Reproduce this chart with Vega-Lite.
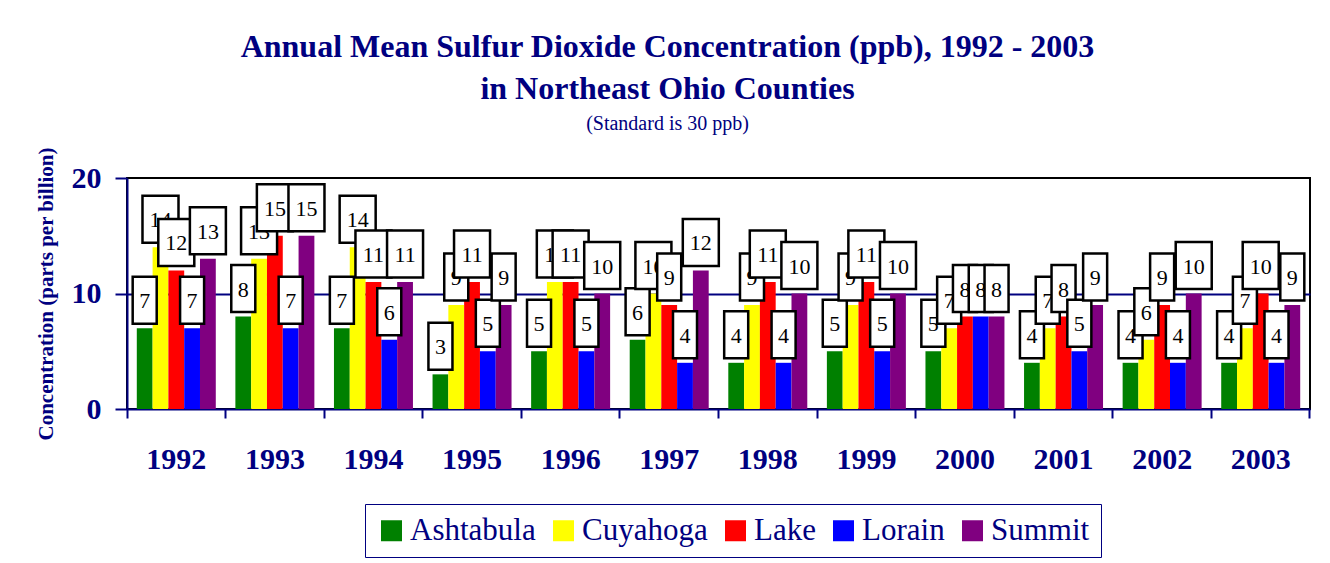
{
  "$schema": "https://vega.github.io/schema/vega-lite/v6.json",
  "autosize": "none",
  "width": 1183,
  "height": 231,
  "padding": {"left": 127, "top": 178, "right": 20, "bottom": 154},
  "background": "white",
  "config": {
    "view": {"stroke": "black", "strokeWidth": 2},
    "font": "Liberation Serif"
  },
  "title": {
    "text": ["Annual Mean Sulfur Dioxide Concentration (ppb), 1992 - 2003", "in Northeast Ohio Counties"],
    "subtitle": "(Standard is 30 ppb)",
    "font": "Liberation Serif",
    "fontSize": 32,
    "fontWeight": "bold",
    "lineHeight": 42,
    "color": "#000080",
    "subtitleFont": "Liberation Serif",
    "subtitleFontSize": 20,
    "subtitleColor": "#000080",
    "subtitlePadding": 8,
    "anchor": "middle",
    "frame": "group",
    "dx": -51,
    "offset": 12
  },
  "data": {
    "values": [
      {"year": "1992", "county": "Ashtabula", "v": 7},
      {"year": "1992", "county": "Cuyahoga", "v": 14},
      {"year": "1992", "county": "Lake", "v": 12},
      {"year": "1992", "county": "Lorain", "v": 7},
      {"year": "1992", "county": "Summit", "v": 13},
      {"year": "1993", "county": "Ashtabula", "v": 8},
      {"year": "1993", "county": "Cuyahoga", "v": 13},
      {"year": "1993", "county": "Lake", "v": 15},
      {"year": "1993", "county": "Lorain", "v": 7},
      {"year": "1993", "county": "Summit", "v": 15},
      {"year": "1994", "county": "Ashtabula", "v": 7},
      {"year": "1994", "county": "Cuyahoga", "v": 14},
      {"year": "1994", "county": "Lake", "v": 11},
      {"year": "1994", "county": "Lorain", "v": 6},
      {"year": "1994", "county": "Summit", "v": 11},
      {"year": "1995", "county": "Ashtabula", "v": 3},
      {"year": "1995", "county": "Cuyahoga", "v": 9},
      {"year": "1995", "county": "Lake", "v": 11},
      {"year": "1995", "county": "Lorain", "v": 5},
      {"year": "1995", "county": "Summit", "v": 9},
      {"year": "1996", "county": "Ashtabula", "v": 5},
      {"year": "1996", "county": "Cuyahoga", "v": 11},
      {"year": "1996", "county": "Lake", "v": 11},
      {"year": "1996", "county": "Lorain", "v": 5},
      {"year": "1996", "county": "Summit", "v": 10},
      {"year": "1997", "county": "Ashtabula", "v": 6},
      {"year": "1997", "county": "Cuyahoga", "v": 10},
      {"year": "1997", "county": "Lake", "v": 9},
      {"year": "1997", "county": "Lorain", "v": 4},
      {"year": "1997", "county": "Summit", "v": 12},
      {"year": "1998", "county": "Ashtabula", "v": 4},
      {"year": "1998", "county": "Cuyahoga", "v": 9},
      {"year": "1998", "county": "Lake", "v": 11},
      {"year": "1998", "county": "Lorain", "v": 4},
      {"year": "1998", "county": "Summit", "v": 10},
      {"year": "1999", "county": "Ashtabula", "v": 5},
      {"year": "1999", "county": "Cuyahoga", "v": 9},
      {"year": "1999", "county": "Lake", "v": 11},
      {"year": "1999", "county": "Lorain", "v": 5},
      {"year": "1999", "county": "Summit", "v": 10},
      {"year": "2000", "county": "Ashtabula", "v": 5},
      {"year": "2000", "county": "Cuyahoga", "v": 7},
      {"year": "2000", "county": "Lake", "v": 8},
      {"year": "2000", "county": "Lorain", "v": 8},
      {"year": "2000", "county": "Summit", "v": 8},
      {"year": "2001", "county": "Ashtabula", "v": 4},
      {"year": "2001", "county": "Cuyahoga", "v": 7},
      {"year": "2001", "county": "Lake", "v": 8},
      {"year": "2001", "county": "Lorain", "v": 5},
      {"year": "2001", "county": "Summit", "v": 9},
      {"year": "2002", "county": "Ashtabula", "v": 4},
      {"year": "2002", "county": "Cuyahoga", "v": 6},
      {"year": "2002", "county": "Lake", "v": 9},
      {"year": "2002", "county": "Lorain", "v": 4},
      {"year": "2002", "county": "Summit", "v": 10},
      {"year": "2003", "county": "Ashtabula", "v": 4},
      {"year": "2003", "county": "Cuyahoga", "v": 7},
      {"year": "2003", "county": "Lake", "v": 10},
      {"year": "2003", "county": "Lorain", "v": 4},
      {"year": "2003", "county": "Summit", "v": 9}
    ]
  },
  "encoding": {
    "x": {
      "field": "year", "type": "nominal", "sort": null,
      "scale": {"paddingInner": 0, "paddingOuter": 0},
      "axis": {
        "title": null, "labelAngle": 0,
        "bandPosition": 1, "tickExtra": true,
        "domainColor": "#000080", "domainWidth": 2,
        "tickColor": "#000080", "tickWidth": 2, "tickSize": 9,
        "labelFont": "Liberation Serif", "labelFontSize": 30, "labelFontWeight": "bold",
        "labelColor": "#000080", "labelPadding": 26
      }
    },
    "xOffset": {
      "field": "county", "type": "nominal",
      "scale": {"domain": ["Ashtabula", "Cuyahoga", "Lake", "Lorain", "Summit"], "paddingInner": 0, "paddingOuter": 0.62}
    },
    "y": {
      "field": "v", "type": "quantitative",
      "scale": {"domain": [0, 20], "nice": false},
      "axis": {
        "values": [0, 10, 20],
        "grid": true, "gridColor": "#000080", "gridWidth": 2,
        "gridOpacity": {"condition": {"test": "datum.value == 10", "value": 1}, "value": 0},
        "domainColor": "#000080", "domainWidth": 2,
        "tickColor": "#000080", "tickWidth": 2, "tickSize": 12,
        "labelFont": "Liberation Serif", "labelFontSize": 30, "labelFontWeight": "bold",
        "labelColor": "#000080", "labelPadding": 14,
        "title": "Concentration (parts per billion)",
        "titleFont": "Liberation Serif", "titleFontSize": 21, "titleFontWeight": "bold",
        "titleColor": "#000080", "titleX": -81, "titleY": 115.5, "titleBaseline": "middle", "titleAngle": -90, "titleAlign": "center"
      }
    }
  },
  "layer": [
    {
      "mark": {"type": "bar"},
      "encoding": {
        "color": {
          "field": "county", "type": "nominal",
          "scale": {"domain": ["Ashtabula", "Cuyahoga", "Lake", "Lorain", "Summit"], "range": ["#008000", "#FFFF00", "#FF0000", "#0000FF", "#800080"]},
          "legend": {
            "title": null, "orient": "none", "legendX": 238, "legendY": 326,
            "direction": "horizontal",
            "strokeColor": "#000080", "fillColor": "white",
            "padding": 11,
            "symbolType": "square", "symbolSize": 441, "symbolStrokeWidth": 0, "symbolOpacity": 1,
            "labelFont": "Liberation Serif", "labelFontSize": 31, "labelColor": "#000080",
            "labelOffset": 3, "columnPadding": 12, "labelLimit": 300
          }
        }
      }
    },
    {
      "transform": [{"filter": "datum.county == 'Ashtabula'"}],
      "layer": [
        {"mark": {"type": "point", "filled": true, "fill": "white", "stroke": "black", "strokeWidth": 2.5, "opacity": 1, "size": 2209, "yOffset": -28},
         "encoding": {"shape": {"condition": {"test": "datum.v >= 10", "value": "M-0.766,-1L0.766,-1L0.766,1L-0.766,1Z"}, "value": "M-0.511,-1L0.511,-1L0.511,1L-0.511,1Z"}}},
        {"mark": {"type": "text", "font": "Liberation Serif", "fontSize": 22, "color": "black", "baseline": "middle", "yOffset": -27},
         "encoding": {"text": {"field": "v", "type": "quantitative"}}}
      ]
    },
    {
      "transform": [{"filter": "datum.county == 'Cuyahoga'"}],
      "layer": [
        {"mark": {"type": "point", "filled": true, "fill": "white", "stroke": "black", "strokeWidth": 2.5, "opacity": 1, "size": 2209, "yOffset": -28},
         "encoding": {"shape": {"condition": {"test": "datum.v >= 10", "value": "M-0.766,-1L0.766,-1L0.766,1L-0.766,1Z"}, "value": "M-0.511,-1L0.511,-1L0.511,1L-0.511,1Z"}}},
        {"mark": {"type": "text", "font": "Liberation Serif", "fontSize": 22, "color": "black", "baseline": "middle", "yOffset": -27},
         "encoding": {"text": {"field": "v", "type": "quantitative"}}}
      ]
    },
    {
      "transform": [{"filter": "datum.county == 'Lake'"}],
      "layer": [
        {"mark": {"type": "point", "filled": true, "fill": "white", "stroke": "black", "strokeWidth": 2.5, "opacity": 1, "size": 2209, "yOffset": -28},
         "encoding": {"shape": {"condition": {"test": "datum.v >= 10", "value": "M-0.766,-1L0.766,-1L0.766,1L-0.766,1Z"}, "value": "M-0.511,-1L0.511,-1L0.511,1L-0.511,1Z"}}},
        {"mark": {"type": "text", "font": "Liberation Serif", "fontSize": 22, "color": "black", "baseline": "middle", "yOffset": -27},
         "encoding": {"text": {"field": "v", "type": "quantitative"}}}
      ]
    },
    {
      "transform": [{"filter": "datum.county == 'Lorain'"}],
      "layer": [
        {"mark": {"type": "point", "filled": true, "fill": "white", "stroke": "black", "strokeWidth": 2.5, "opacity": 1, "size": 2209, "yOffset": -28},
         "encoding": {"shape": {"condition": {"test": "datum.v >= 10", "value": "M-0.766,-1L0.766,-1L0.766,1L-0.766,1Z"}, "value": "M-0.511,-1L0.511,-1L0.511,1L-0.511,1Z"}}},
        {"mark": {"type": "text", "font": "Liberation Serif", "fontSize": 22, "color": "black", "baseline": "middle", "yOffset": -27},
         "encoding": {"text": {"field": "v", "type": "quantitative"}}}
      ]
    },
    {
      "transform": [{"filter": "datum.county == 'Summit'"}],
      "layer": [
        {"mark": {"type": "point", "filled": true, "fill": "white", "stroke": "black", "strokeWidth": 2.5, "opacity": 1, "size": 2209, "yOffset": -28},
         "encoding": {"shape": {"condition": {"test": "datum.v >= 10", "value": "M-0.766,-1L0.766,-1L0.766,1L-0.766,1Z"}, "value": "M-0.511,-1L0.511,-1L0.511,1L-0.511,1Z"}}},
        {"mark": {"type": "text", "font": "Liberation Serif", "fontSize": 22, "color": "black", "baseline": "middle", "yOffset": -27},
         "encoding": {"text": {"field": "v", "type": "quantitative"}}}
      ]
    }
  ]
}
